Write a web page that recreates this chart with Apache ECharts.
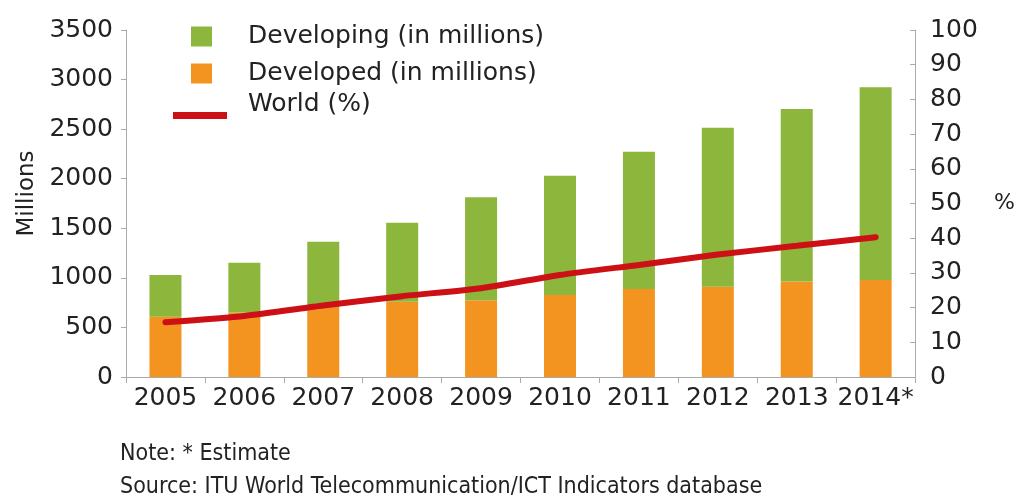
<!DOCTYPE html>
<html>
<head>
<meta charset="utf-8">
<script src="https://cdn.jsdelivr.net/npm/echarts@6/dist/echarts.min.js"></script>
<style>
  html, body { margin: 0; padding: 0; background: #ffffff; }
  #chart { width: 1018px; height: 499px; }
</style>
</head>
<body>
<div id="chart"></div>
<script>
// ---- data ----
var years = ['2005', '2006', '2007', '2008', '2009', '2010', '2011', '2012', '2013', '2014*'];
var developed = [608, 650, 727, 760, 775, 827, 888, 911, 962, 979];
var developing = [421, 503, 638, 797, 1038, 1204, 1385, 1604, 1742, 1944];
var world = [15.8, 17.6, 20.6, 23.3, 25.6, 29.4, 32.3, 35.3, 37.8, 40.3];
var leftTicks = { min: 0, max: 3500, interval: 500 };
var rightTicks = { min: 0, max: 100, interval: 10 };
var noteText = 'Note: * Estimate';
var sourceText = 'Source: ITU World Telecommunication/ICT Indicators database';

// ---- chart ----
var GREEN = '#8db63c', ORANGE = '#f49420', RED = '#cc1016';
var AXIS = '#aaaaaa', TXT = '#222222';
var FONT = 'DejaVu Sans';
function plain(v) { return String(v); }

var chart = echarts.init(document.getElementById('chart'), null, { renderer: 'canvas' });
chart.setOption({
  animation: false,
  backgroundColor: '#ffffff',
  grid: { left: 126, right: 100, top: 30, bottom: 122 },
  legend: [
    {
      data: ['Developing (in millions)', 'Developed (in millions)'],
      orient: 'vertical', left: 191, top: 24, padding: 0,
      itemWidth: 21, itemHeight: 20, itemGap: 12,
      icon: 'rect',
      textStyle: { fontFamily: FONT, fontSize: 25, color: TXT, padding: [0, 0, 0, 31] }
    },
    {
      data: [{ name: 'World (%)', icon: 'path://M0,0 L0.01,0 L0.01,0.01 Z M0,22 L54,22 L54,29 L0,29 Z' }],
      left: 173, top: 90, padding: 0,
      itemWidth: 54, itemHeight: 29,
      textStyle: { fontFamily: FONT, fontSize: 25, color: TXT, padding: [0, 0, 0, 16] }
    }
  ],
  xAxis: {
    type: 'category',
    data: years,
    boundaryGap: true,
    axisLine: { lineStyle: { color: AXIS, width: 1 } },
    axisTick: { show: true, alignWithLabel: false, length: 6, lineStyle: { color: AXIS } },
    axisLabel: { fontFamily: FONT, fontSize: 25, color: TXT, margin: 9, lineHeight: 25, interval: 0 }
  },
  yAxis: [
    {
      type: 'value', min: leftTicks.min, max: leftTicks.max, interval: leftTicks.interval,
      name: 'Millions', nameLocation: 'middle', nameGap: 83,
      nameTextStyle: { fontFamily: FONT, fontSize: 23, color: TXT, padding: [0, 0, 0, 20] },
      axisLine: { show: true, lineStyle: { color: AXIS } },
      axisTick: { show: true, length: 5, lineStyle: { color: AXIS } },
      axisLabel: { fontFamily: FONT, fontSize: 25, color: TXT, margin: 13, formatter: plain },
      splitLine: { show: false }
    },
    {
      type: 'value', min: rightTicks.min, max: rightTicks.max, interval: rightTicks.interval,
      position: 'right',
      name: '%', nameLocation: 'middle', nameGap: 79, nameRotate: 0,
      nameTextStyle: { fontFamily: FONT, fontSize: 22, color: TXT },
      axisLine: { show: true, lineStyle: { color: AXIS } },
      axisTick: { show: true, inside: true, length: 5, lineStyle: { color: AXIS } },
      axisLabel: { fontFamily: FONT, fontSize: 25, color: TXT, margin: 15, formatter: plain },
      splitLine: { show: false }
    }
  ],
  series: [
    {
      name: 'Developed (in millions)', type: 'bar', stack: 'users',
      data: developed, barWidth: 32, itemStyle: { color: ORANGE }, yAxisIndex: 0
    },
    {
      name: 'Developing (in millions)', type: 'bar', stack: 'users',
      data: developing, barWidth: 32, itemStyle: { color: GREEN }, yAxisIndex: 0
    },
    {
      name: 'World (%)', type: 'line', yAxisIndex: 1, data: world,
      symbol: 'none', smooth: 0.2,
      lineStyle: { color: RED, width: 6, cap: 'round' },
      itemStyle: { color: RED }, z: 5
    }
  ],
  graphic: [
    {
      type: 'text', left: 120, top: 443,
      style: { text: noteText, font: '23px "DejaVu Sans Condensed"', fill: TXT }
    },
    {
      type: 'text', left: 120, top: 476,
      style: { text: sourceText, font: '23px "DejaVu Sans Condensed"', fill: TXT }
    }
  ]
});
</script>
</body>
</html>
